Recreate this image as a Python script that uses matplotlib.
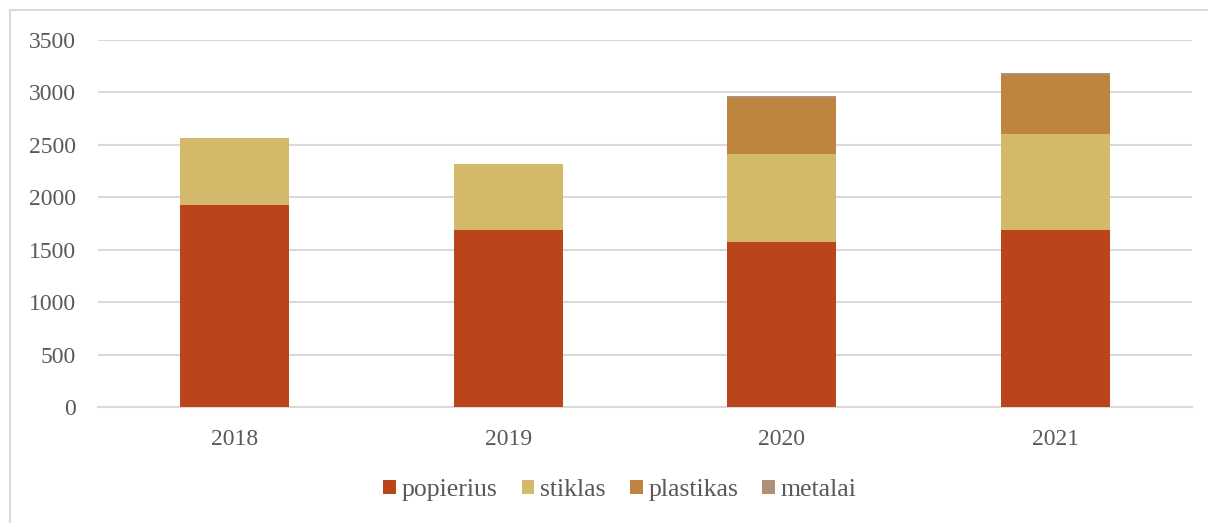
import matplotlib.pyplot as plt
import numpy as np
from matplotlib.lines import Line2D

plt.rcParams['font.family'] = ['Liberation Serif', 'DejaVu Serif']

years = ['2018', '2019', '2020', '2021']
popierius = [1922, 1687, 1576, 1687]
stiklas = [645, 635, 841, 914]
plastikas = [0, 0, 527, 562]
metalai = [0, 0, 26, 23]

names = ['popierius', 'stiklas', 'plastikas', 'metalai']
colors = ['#BB451B', '#D3B96A', '#BD853F', '#AD9077']

fig = plt.figure(figsize=(12.08, 5.23), dpi=100)
ax = fig.add_axes([98 / 1208, 1 - 407 / 523, (1192 - 98) / 1208, (407 - 40) / 523])

x = np.arange(len(years))
bottom = np.zeros(len(years))
for vals, name, col in zip([popierius, stiklas, plastikas, metalai], names, colors):
    ax.bar(x, vals, 0.4, bottom=bottom, color=col, label=name, zorder=3)
    bottom += np.array(vals)

ax.set_xlim(-0.5, 3.5)
ax.set_ylim(0, 3500)
ax.set_yticks(range(0, 3501, 500))
ax.set_xticks(x)
ax.set_xticklabels(years)
ax.yaxis.grid(True, color='#D9D9D9', linewidth=1.5, zorder=0)
for s in ['top', 'right', 'left']:
    ax.spines[s].set_visible(False)
ax.spines['bottom'].set_color('#D9D9D9')
ax.spines['bottom'].set_linewidth(1.5)
ax.tick_params(length=0, labelsize=17, colors='#595959')
ax.tick_params(axis='x', pad=16)
ax.tick_params(axis='y', pad=16)

leg = ax.legend(loc='center', bbox_to_anchor=(620 / 1208, 1 - 490 / 523),
                bbox_transform=fig.transFigure, ncol=4, frameon=False,
                fontsize=18.5, handlelength=0.5, handleheight=0.5,
                handletextpad=0.23, columnspacing=0.93)
for t in leg.get_texts():
    t.set_color('#595959')

# outer chart border (only top and left visible)
fig.add_artist(Line2D([10 / 1208, 10 / 1208], [0, 1 - 10 / 523], transform=fig.transFigure,
                      color='#D9D9D9', linewidth=1.5))
fig.add_artist(Line2D([10 / 1208, 1], [1 - 10 / 523, 1 - 10 / 523], transform=fig.transFigure,
                      color='#D9D9D9', linewidth=1.5))

fig.savefig('out.png', dpi=100)
